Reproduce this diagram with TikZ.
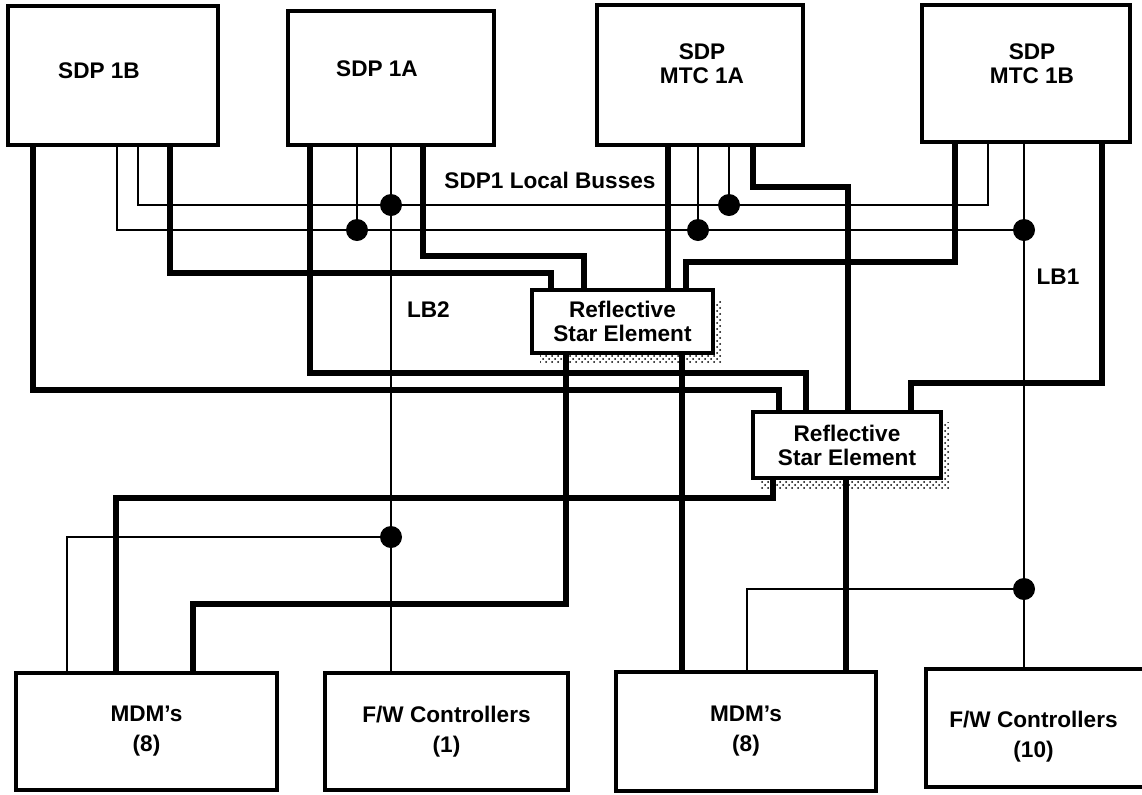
\documentclass[tikz,border=0pt]{standalone}
\usepackage{fontspec}
\setmainfont{Liberation Sans}
\usetikzlibrary{calc,positioning,shadows,patterns}

\begin{document}
\begin{tikzpicture}[x=0.5pt,y=-0.5pt,
  font=\fontsize{11.3}{12}\selectfont\bfseries,
  box/.style={draw,line width=1.7pt,inner sep=0pt,align=center,fill=white},
  star/.style={box,drop shadow={shadow xshift=4pt,shadow yshift=-5pt,pattern=crosshatch dots,opacity=1}},
  fibre/.style={line width=3pt},
  wire/.style={line width=1.25pt},
  tap/.style={circle,fill,inner sep=0pt,minimum size=11pt}]
\useasboundingbox (0,0) rectangle (1142,794);

% processors
\node[box,minimum width=105pt,minimum height=69.5pt,
  label={[xshift=-7pt,yshift=2.5pt]center:SDP 1B}] (sdpb) at (113,75.5) {};
\node[box,minimum width=103pt,minimum height=67pt,
  label={[xshift=-7pt,yshift=4.5pt]center:SDP 1A}] (sdpa) at (391,78) {};
\node[box,minimum width=103pt,minimum height=70pt,
  label={[align=center,xshift=1pt,yshift=5.75pt]center:SDP\\MTC 1A}] (mtca) at (700,75) {};
\node[box,minimum width=104pt,minimum height=68.5pt,
  label={[align=center,xshift=3pt,yshift=5pt]center:SDP\\MTC 1B}] (mtcb) at (1026,73.5) {};

% star couplers
\node[star,minimum width=90.5pt,minimum height=31.5pt] (star1) at (622.5,321.5) {Reflective\\Star Element};
\node[star,minimum width=94pt,minimum height=33pt] (star2) at (847,445) {Reflective\\Star Element};

% end units
\node[box,minimum width=130.5pt,minimum height=58.5pt] (mdma) at (146.5,731.5) {MDM's\\[3pt](8)};
\node[box,minimum width=121.5pt,minimum height=58.5pt] (fwa) at (446.5,731.5) {F/W Controllers\\[3pt](1)};
\node[box,minimum width=130pt,minimum height=59.5pt] (mdmb) at (746,731.5) {MDM's\\[3pt](8)};
\node[box,minimum width=109.5pt,minimum height=59pt,
  label={[align=center,xshift=-1pt,yshift=-4.5pt]center:F/W Controllers\\[3pt](10)}] (fwb) at (1035.5,728) {};

% labels
\node (busses) at (550,180) {SDP1 Local Busses};
\node[anchor=west] (lb2) at (400,310) {LB2};
\node (lb1) at (1058,277) {LB1};

% fibre links
\draw[fibre] (sdpb.south -| 33,0) |- (779,390) -- (star2.north -| 779,0);
\draw[fibre] (sdpb.south -| 170,0) |- (551,273) -- (star1.north -| 551,0);
\draw[fibre] (sdpa.south -| 310,0) |- (806,373) -- (star2.north -| 806,0);
\draw[fibre] (sdpa.south -| 423,0) |- (584,256) -- (star1.north -| 584,0);
\draw[fibre] (mtca.south -| 668,0) -- (star1.north -| 668,0);
\draw[fibre] (mtca.south -| 753,0) |- (848,187) -- (star2.north -| 848,0);
\draw[fibre] (mtcb.south -| 955,0) |- (686,262) -- (star1.north -| 686,0);
\draw[fibre] (mtcb.south -| 1102,0) |- (911,383) -- (star2.north -| 911,0);
\draw[fibre] (star1.south -| 566,0) |- (193,604) -- (mdma.north -| 193,0);
\draw[fibre] (star1.south -| 682,0) -- (mdmb.north -| 682,0);
\draw[fibre] (star2.south -| 773,0) |- (116,498) -- (mdma.north -| 116,0);
\draw[fibre] (star2.south -| 846,0) -- (mdmb.north -| 846,0);

% local busses
\coordinate (tA) at (391,205);
\coordinate (tB) at (357,230);
\coordinate (tC) at (698,230);
\coordinate (tD) at (729,205);
\coordinate (tE) at (1024,230);
\coordinate (tF) at (391,537);
\coordinate (tG) at (1024,589);
\draw[wire] (sdpb.south -| 138,0) -- (138,205) -| (mtcb.south -| 988,0);
\draw[wire] (sdpb.south -| 117,0) |- (tE);
\draw[wire] (sdpa.south -| tA) -- (fwa.north -| tA);
\draw[wire] (sdpa.south -| tB) -- (tB);
\draw[wire] (mtca.south -| tC) -- (tC);
\draw[wire] (mtca.south -| tD) -- (tD);
\draw[wire] (mtcb.south -| tE) -- (fwb.north -| tE);
\draw[wire] (tF) -| (mdma.north -| 67,0);
\draw[wire] (tG) -| (mdmb.north -| 747,0);
\foreach \t in {tA,tB,tC,tD,tE,tF,tG}
  \node[tap] at (\t) {};
\end{tikzpicture}
\end{document}
